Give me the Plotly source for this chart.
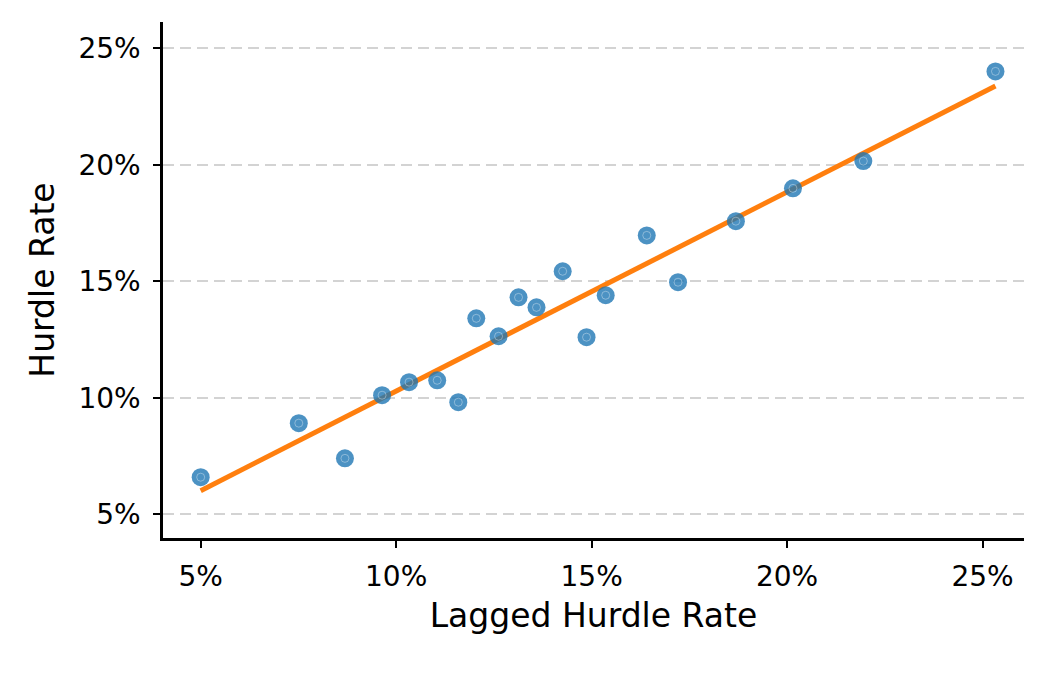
import numpy as np
import plotly.graph_objects as go

lagged_rate = [5.0, 7.51, 8.69, 9.64, 10.33, 11.05, 11.59, 12.05, 12.62, 13.13,
               13.59, 14.26, 14.87, 15.36, 16.41, 17.21, 18.69, 20.15, 21.95, 25.33]
hurdle_rate = [6.59, 8.91, 7.40, 10.11, 10.67, 10.75, 9.81, 13.41, 12.64, 14.31,
               13.88, 15.43, 12.60, 14.40, 16.97, 14.96, 17.58, 18.99, 20.16, 24.01]
tick_vals = [5, 10, 15, 20, 25]
tick_text = ["5%", "10%", "15%", "20%", "25%"]

slope, intercept = np.polyfit(lagged_rate, hurdle_rate, 1)
fit_x = [min(lagged_rate), max(lagged_rate)]
fit_y = [intercept + slope * v for v in fit_x]

font = "DejaVu Sans, Verdana, sans-serif"

fig = go.Figure()
fig.add_trace(go.Scatter(
    x=fit_x, y=fit_y, mode="lines",
    line=dict(color="#ff7f0e", width=5), showlegend=False, hoverinfo="skip"))
fig.add_trace(go.Scatter(
    x=lagged_rate, y=hurdle_rate, mode="markers",
    marker=dict(size=18, color="rgba(31,119,180,0.8)",
                line=dict(width=0)), showlegend=False))
fig.add_trace(go.Scatter(
    x=lagged_rate, y=hurdle_rate, mode="markers",
    marker=dict(size=8, symbol="circle-open", color="rgba(255,255,255,0.35)",
                line=dict(width=1, color="rgba(255,255,255,0.35)")),
    showlegend=False, hoverinfo="skip"))

fig.update_layout(
    width=1046, height=676,
    margin=dict(l=163, r=22, t=22, b=138),
    paper_bgcolor="white", plot_bgcolor="white",
    font=dict(family=font, color="black", size=28),
)
fig.update_xaxes(
    range=[4.036, 26.06], tickvals=tick_vals, ticktext=tick_text,
    showgrid=False, zeroline=False,
    showline=True, linecolor="black", linewidth=2.5,
    ticks="outside", ticklen=7, tickwidth=2.2, tickcolor="black",
    tickfont=dict(size=28), ticklabelstandoff=5,
    title=dict(text="Lagged Hurdle Rate", font=dict(size=33), standoff=12),
)
fig.update_yaxes(
    range=[3.98, 26.13], tickvals=tick_vals, ticktext=tick_text,
    showgrid=True, gridcolor="#d3d3d3", gridwidth=2, griddash="11px,6px",
    zeroline=False,
    showline=True, linecolor="black", linewidth=2.5,
    ticks="outside", ticklen=7, tickwidth=2.2, tickcolor="black",
    tickfont=dict(size=28), ticklabelstandoff=7,
    title=dict(text="Hurdle Rate", font=dict(size=33), standoff=14),
)

fig.write_html("out.html")
